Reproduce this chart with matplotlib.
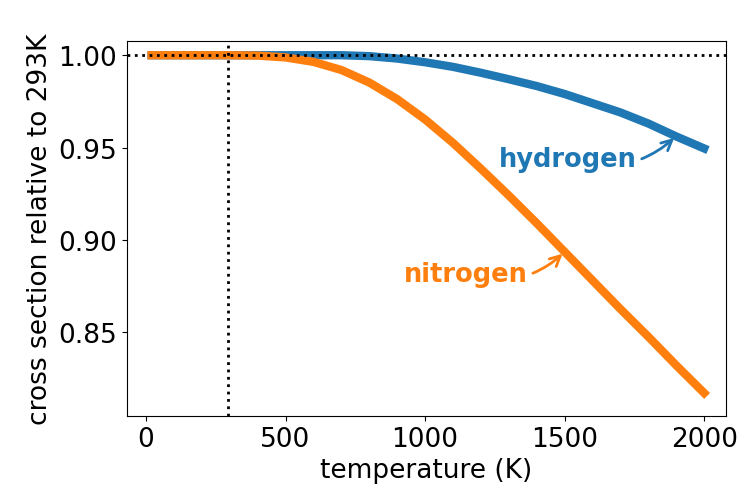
import numpy as np
import matplotlib
matplotlib.use("Agg")
import matplotlib.pyplot as plt

# temperatures (K) and cross sections relative to 293 K
temperature = [20, 100, 200, 300, 400, 500, 600, 700, 800, 900, 1000,
               1100, 1200, 1300, 1400, 1500, 1600, 1700, 1800, 1900, 2000]
hydrogen = [1.0, 1.0, 1.0, 1.0, 1.0, 1.0, 1.0, 1.0, 0.9995, 0.9982, 0.9962,
            0.9937, 0.9905, 0.9870, 0.9833, 0.9790, 0.9740, 0.9690, 0.9630,
            0.9560, 0.9495]
nitrogen = [1.0, 1.0, 1.0, 1.0, 0.9998, 0.9988, 0.9964, 0.9920, 0.9852, 0.9762,
            0.9652, 0.9525, 0.9385, 0.9240, 0.9090, 0.8935, 0.8780, 0.8625,
            0.8475, 0.8320, 0.8170]
ref_temp = 293

plt.rcParams['font.size'] = 19

fig, ax = plt.subplots(figsize=(7.43, 4.85), dpi=100)
fig.subplots_adjust(left=0.171, right=0.977, top=0.913, bottom=0.14)

ax.plot(temperature, hydrogen, color='tab:blue', lw=6)
ax.plot(temperature, nitrogen, color='tab:orange', lw=6)
ax.axhline(1.0, color='k', ls=':', lw=2)
ax.axvline(ref_temp, color='k', ls=':', lw=2)

ax.annotate('hydrogen', xy=(1900, 0.9562), xytext=(1510, 0.9437),
            color='tab:blue', fontsize=18.5, fontweight='bold',
            ha='center', va='center',
            arrowprops=dict(arrowstyle='->', color='tab:blue', lw=2,
                            connectionstyle='arc3,rad=0.3'))
ax.annotate('nitrogen', xy=(1500, 0.8935), xytext=(1145, 0.8814),
            color='tab:orange', fontsize=18.5, fontweight='bold',
            ha='center', va='center',
            arrowprops=dict(arrowstyle='->', color='tab:orange', lw=2,
                            connectionstyle='arc3,rad=0.3'))

ax.set_xlim(-68, 2078)
ax.set_ylim(0.8045, 1.0076)
ax.set_yticks([0.85, 0.90, 0.95, 1.00])
ax.set_xlabel('temperature (K)')
ax.set_ylabel('cross section relative to 293K')

fig.savefig('out.png')
